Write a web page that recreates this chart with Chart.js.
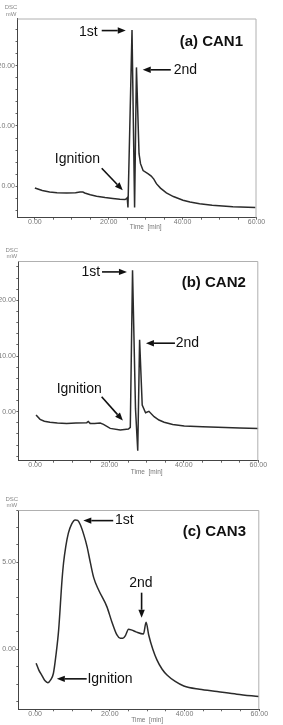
<!DOCTYPE html>
<html><head><meta charset="utf-8">
<script src="https://cdn.jsdelivr.net/npm/chart.js@4"></script>
<style>
html,body{margin:0;padding:0;background:#fff;width:283px;height:725px;overflow:hidden}
canvas{position:absolute;left:0}
</style></head><body>
<canvas id="ca" width="283" height="232" style="top:0px"></canvas>
<canvas id="cb" width="283" height="246" style="top:232px"></canvas>
<canvas id="cc" width="283" height="247" style="top:478px"></canvas>
<script>
// ---- data (time in min, DSC in mW) ----
const timeA = [0.0,2.0,4.0,6.0,8.6,11.0,12.2,13.0,13.5,15.0,16.7,19.0,21.1,23.0,24.4,24.8,25.0,25.2,26.3,27.0,27.5,28.2,28.6,29.3,30.6,31.5,32.2,32.9,34.0,35.6,37.5,40.1,42.0,44.6,48.0,53.6,59.7];
const dscA  = [-0.28,-0.7,-0.95,-1.05,-1.1,-1.05,-0.94,-0.95,-1.1,-1.4,-1.65,-1.85,-2.0,-2.15,-2.2,-2.05,-1.9,-3.5,25.9,-3.5,19.7,5.4,3.75,2.6,2.1,1.7,1.2,0.44,-0.3,-1.1,-1.7,-2.3,-2.6,-2.9,-3.15,-3.4,-3.5];

const timeB = [0.27,1.35,2.5,4.0,6.0,8.5,11.0,13.9,14.3,14.8,16.0,17.5,18.4,20.2,22.9,25.1,25.6,26.2,27.0,27.6,28.1,28.8,29.7,30.6,32.0,33.3,34.7,37.0,40.1,45.0,49.1,55.0,60.0];
const dscB  = [-0.6,-1.37,-1.7,-1.9,-2.05,-2.1,-2.05,-1.97,-1.75,-2.1,-2.1,-2.05,-2.27,-3.0,-3.29,-3.1,-2.8,25.4,0.5,-7.0,12.9,1.2,-0.2,0.07,-0.9,-1.5,-1.9,-2.3,-2.57,-2.72,-2.8,-2.92,-3.0];

const timeC = [0.27,1.0,1.8,2.6,3.4,4.2,4.9,5.6,6.3,7.2,7.6,8.2,8.9,9.8,10.7,11.4,12.1,13.0,13.9,14.8,15.7,17.0,19.2,20.5,21.9,22.8,23.5,24.2,25.0,25.9,27.0,29.0,29.7,30.4,31.5,32.6,34.0,35.3,37.5,39.8,44.0,48.7,54.0,59.9];
const dscC  = [-0.8,-1.2,-1.5,-1.8,-1.92,-1.75,-1.38,-0.3,1.11,3.98,4.94,5.9,6.67,7.2,7.43,7.4,7.15,6.6,5.9,4.96,4.1,3.4,2.45,1.6,0.82,0.63,0.63,0.8,1.15,1.1,1.0,0.88,1.55,0.82,0.0,-0.61,-1.15,-1.48,-1.85,-2.11,-2.3,-2.43,-2.58,-2.72];

// ---- tick labels ----
const xMajor  = [0, 20, 40, 60];
const yMajorA = [0, 10, 20];
const yMajorB = [0, 10, 20];
const yMajorC = [0, 5];

const FONT = '"Liberation Sans", Arial, sans-serif';

function isIn(list, v){ return list.some(m => Math.abs(m - v) < 1e-6); }

function notesPlugin(items, titleDy){
  return {
    id: 'notes',
    afterDraw(chart){
      const {ctx, chartArea: a, scales: {x, y}} = chart;
      ctx.save();
      // light top & right frame
      ctx.strokeStyle = '#b0b0b0'; ctx.lineWidth = 1;
      ctx.beginPath();
      ctx.moveTo(a.left, a.top + 0.5); ctx.lineTo(a.right - 0.5, a.top + 0.5); ctx.lineTo(a.right - 0.5, a.bottom);
      ctx.stroke();
      // DSC / mW unit label
      ctx.fillStyle = '#888'; ctx.font = '6px ' + FONT;
      ctx.textAlign = 'center'; ctx.textBaseline = 'middle';
      ctx.fillText('DSC', a.left - 6.5, a.top - 11);
      ctx.fillText('mW', a.left - 6.5, a.top - 4.5);
      // x title
      ctx.fillStyle = '#777'; ctx.font = '6.5px ' + FONT;
      ctx.fillText('Time  [min]', x.getPixelForValue(30), a.bottom + titleDy);
      // annotations
      ctx.fillStyle = '#111'; ctx.strokeStyle = '#111';
      for (const it of items){
        if (it.text){
          ctx.font = (it.bold ? 'bold 15px ' : '14px ') + FONT;
          ctx.textAlign = it.align || 'left';
          ctx.textBaseline = 'middle';
          ctx.fillText(it.text, x.getPixelForValue(it.x), y.getPixelForValue(it.y));
        } else {
          const x1 = x.getPixelForValue(it.x1), y1 = y.getPixelForValue(it.y1);
          const x2 = x.getPixelForValue(it.x2), y2 = y.getPixelForValue(it.y2);
          const ang = Math.atan2(y2 - y1, x2 - x1), L = 8, W = 3.2;
          const bx = x2 - L * Math.cos(ang), by = y2 - L * Math.sin(ang);
          ctx.lineWidth = 1.6;
          ctx.beginPath(); ctx.moveTo(x1, y1); ctx.lineTo(bx, by); ctx.stroke();
          ctx.beginPath();
          ctx.moveTo(x2, y2);
          ctx.lineTo(bx + W * Math.sin(ang), by - W * Math.cos(ang));
          ctx.lineTo(bx - W * Math.sin(ang), by + W * Math.cos(ang));
          ctx.closePath(); ctx.fill();
        }
      }
      ctx.restore();
    }
  };
}

function mk(id, t, v, o){
  const tickFont = {family: FONT, size: 7, lineHeight: 1};
  const grid = {display: true, drawOnChartArea: false, drawTicks: true, tickLength: 2, color: '#666'};
  return new Chart(document.getElementById(id), {
    type: 'line',
    data: {datasets: [{
      data: t.map((tx, i) => ({x: tx, y: v[i]})),
      borderColor: '#2b2b2b', borderWidth: 1.5, pointRadius: 0, fill: false,
      tension: o.mono ? 0.4 : 0, cubicInterpolationMode: o.mono ? 'monotone' : 'default'
    }]},
    options: {
      responsive: false, animation: false, events: [],
      layout: {padding: {left: 0, top: o.top, right: o.right, bottom: 0}},
      plugins: {legend: {display: false}, tooltip: {enabled: false}},
      scales: {
        x: {
          type: 'linear', min: o.xmin, max: 60,
          afterFit: s => { s.height = o.xh; },
          border: {display: true, color: '#444', width: 1},
          grid: grid,
          ticks: {stepSize: 5, includeBounds: false, autoSkip: false, maxRotation: 0, padding: -1,
                  color: '#777', font: tickFont,
                  callback: val => isIn(xMajor, val) ? Number(val).toFixed(2) : ''}
        },
        y: {
          type: 'linear', min: o.ymin, max: o.ymax,
          afterFit: s => { s.width = o.yw; },
          border: {display: true, color: '#444', width: 1},
          grid: grid,
          ticks: {stepSize: o.ystep, includeBounds: false, autoSkip: false, padding: 0.5,
                  color: '#777', font: tickFont,
                  callback: val => isIn(o.yMajor, val) ? Number(val).toFixed(2) : ''}
        }
      }
    },
    plugins: [notesPlugin(o.notes, o.titleDy)]
  });
}

mk('ca', timeA, dscA, {
  top: 18.5, right: 26.5, xh: 14.3, yw: 17.5, xmin: -4.7, ymin: -5.2, ymax: 27.8, ystep: 2,
  yMajor: yMajorA, titleDy: 9.6,
  notes: [
    {text: '1st', x: 17.0, y: 25.6, align: 'right'},
    {x1: 18.1, y1: 25.8, x2: 24.6, y2: 25.8},
    {text: '(a) CAN1', x: 39.2, y: 24.0, bold: true},
    {x1: 36.8, y1: 19.3, x2: 29.2, y2: 19.3},
    {text: '2nd', x: 37.6, y: 19.2},
    {text: 'Ignition', x: 5.4, y: 4.5},
    {x1: 18.1, y1: 3.0, x2: 23.8, y2: -0.66}
  ]
});

mk('cb', timeB, dscB, {
  top: 29, right: 24.7, xh: 17.3, yw: 18.3, xmin: -4.5, ymin: -8.8, ymax: 27.06, ystep: 2,
  yMajor: yMajorB, titleDy: 11.3,
  notes: [
    {text: '1st', x: 17.5, y: 25.0, align: 'right'},
    {x1: 18.0, y1: 25.1, x2: 24.7, y2: 25.1},
    {text: '(b) CAN2', x: 39.4, y: 23.05, bold: true},
    {x1: 37.6, y1: 12.3, x2: 29.8, y2: 12.3},
    {text: '2nd', x: 37.8, y: 12.3},
    {text: 'Ignition', x: 5.8, y: 4.0},
    {x1: 17.9, y1: 2.7, x2: 23.6, y2: -1.6}
  ]
});

mk('cc', timeC, dscC, {
  top: 32, right: 23.7, xh: 15.7, yw: 18.3, xmin: -4.5, ymin: -3.45, ymax: 8.0, ystep: 1,
  yMajor: yMajorC, titleDy: 11.4, mono: true,
  notes: [
    {x1: 20.9, y1: 7.39, x2: 12.9, y2: 7.39},
    {text: '1st', x: 21.4, y: 7.39},
    {text: '(c) CAN3', x: 39.5, y: 6.75, bold: true},
    {text: '2nd', x: 28.3, y: 3.82, align: 'center'},
    {x1: 28.5, y1: 3.25, x2: 28.5, y2: 1.81},
    {text: 'Ignition', x: 14.0, y: -1.7},
    {x1: 13.8, y1: -1.7, x2: 5.8, y2: -1.7}
  ]
});
</script>
</body></html>
